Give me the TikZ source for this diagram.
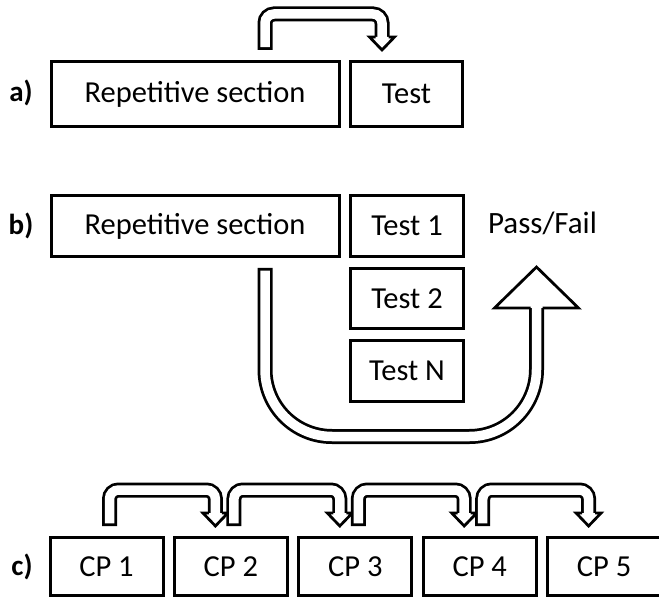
\documentclass[tikz,border=0pt]{standalone}
\usepackage{fontspec}
\setmainfont{Carlito}
\usetikzlibrary{calc}
\tikzset{
  box/.style={draw, line width=3pt, inner sep=0pt, font=\fontsize{30.5}{36}\selectfont},
  tag/.style={font=\bfseries\fontsize{29}{34}\selectfont},
  band/.style={line width=15pt, rounded corners=9pt},
  hole/.style={line width=9.5pt, white, rounded corners=9pt},
  head/.style={draw, fill=white, line width=2.75pt, line join=miter},
}
% hollow arrow bent over the boxes: from node, x offset, to node, x offset
\newcommand{\bentarrow}[4]{%
  \draw[band] ($(#1.north)+(#2,10)$) -- ++(0,36) -| ($(#3.north)+(#4,23)$);
  \draw[hole] ($(#1.north)+(#2,12.75)$) -- ++(0,33.25) -| ($(#3.north)+(#4,23)$);
  \filldraw[head] ($(#3.north)+(#4-6.5,23)$) -- ++(-6,0) -- ($(#3.north)+(#4,10)$) -- ++(12.5,13) -- ++(-6,0);
}
\begin{document}
\begin{tikzpicture}[x=1pt,y=1pt]
  \useasboundingbox (0,0) rectangle (659,598);
  % texts
  \node[tag] at(21,505)(la){a)};
  \node[tag] at(21,372)(lb){b)};
  \node[tag] at(22,31)(lc){c)};
  \node[font=\fontsize{31}{36}\selectfont] at(542.5,375)(pass){Pass/Fail};
  % a) nodes
  \node[box, minimum width=288pt, minimum height=65pt] at(195,504)(rep1){Repetitive section};
  \node[box, minimum width=112pt, minimum height=65pt] at(406.5,504)(test1){Test};
  % b) nodes
  \node[box, minimum width=288pt, minimum height=61pt] at(195,372)(rep2){Repetitive section};
  \node[box, minimum width=113pt, minimum height=61pt] at(407,372)(t1){Test 1};
  \node[box, minimum width=113pt, minimum height=60pt] at(407,299.5)(t2){Test 2};
  \node[box, minimum width=113pt, minimum height=60pt] at(407,227)(tn){Test N};
  % c) nodes
  \foreach \i in {1,...,5}
    \node[box, minimum width=113pt, minimum height=58pt] at({106.5+124.4*(\i-1)},31.5)(cp\i){CP \i};
  % a) arrow
  \bentarrow{rep1}{70}{test1}{-24.5}
  % b) arrow
  \coordinate (tip) at (536.5,331);
  \draw[band, rounded corners=67pt] ($(rep2.south east)+(-75.5,-10)$) -- ++(0,-168.5) -| ($(tip)+(0,-41)$);
  \draw[hole, rounded corners=67pt] ($(rep2.south east)+(-75.5,-12.75)$) -- ++(0,-165.75) -| ($(tip)+(0,-41)$);
  \filldraw[head] ($(tip)+(-6,-41)$) -- ++(-36,0) -- (tip) -- ++(42,-41) -- ++(-36,0);
  % c) arrows
  \foreach \i/\j in {1/2,2/3,3/4,4/5}
    \bentarrow{cp\i}{3}{cp\j}{-15.5};
\end{tikzpicture}
\end{document}
